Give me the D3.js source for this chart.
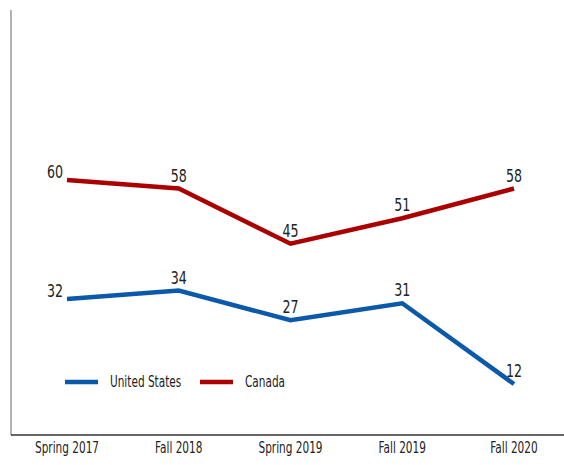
<!DOCTYPE html>
<html>
<head>
<meta charset="utf-8">
<script src="https://d3js.org/d3.v7.min.js"></script>
<style>
  body { margin: 0; background: #fff; }
  text { font-family: "DejaVu Sans Condensed", "DejaVu Sans", sans-serif; fill: #222; }
</style>
</head>
<body>
<svg id="chart" width="564" height="465"></svg>
<script>
var categories = ["Spring 2017", "Fall 2018", "Spring 2019", "Fall 2019", "Fall 2020"];
var usValues = [32, 34, 27, 31, 12];
var canadaValues = [60, 58, 45, 51, 58];

var series = [
  {name: "United States", values: usValues, color: "#0a59ab"},
  {name: "Canada", values: canadaValues, color: "#aa0000"}
];

// the reference uses a condensed face, so squeeze text horizontally
var squeeze = 0.78;
function place(px, py) { return "translate(" + px + "," + py + ") scale(" + squeeze + ",1)"; }

var svg = d3.select("#chart");

var x = d3.scalePoint().domain(categories).range([67, 514]);
var y = d3.scaleLinear().domain([0, 100]).range([435, 10]);

// axes
svg.append("line")
    .attr("x1", 11).attr("x2", 11)
    .attr("y1", y(100)).attr("y2", y(0))
    .attr("stroke", "#999").attr("stroke-width", 1.5);

svg.append("line")
    .attr("x1", 11).attr("x2", 564)
    .attr("y1", y(0)).attr("y2", y(0))
    .attr("stroke", "#333").attr("stroke-width", 1.5);

svg.selectAll("text.tick")
    .data(categories)
  .enter().append("text")
    .attr("class", "tick")
    .attr("transform", function(d) { return place(x(d), 453); })
    .attr("text-anchor", "middle")
    .style("font-size", "15px")
    .text(function(d) { return d; });

var line = d3.line()
    .x(function(d, i) { return x(categories[i]); })
    .y(function(d) { return y(d); });

series.forEach(function(s) {
  svg.append("path")
      .attr("d", line(s.values))
      .attr("fill", "none")
      .attr("stroke", s.color)
      .attr("stroke-width", 4.5);

  svg.selectAll(null)
      .data(s.values)
    .enter().append("text")
      .attr("transform", function(d, i) {
        return i == 0 ? place(x(categories[i]) - 4, y(d) - 2) : place(x(categories[i]), y(d) - 7);
      })
      .attr("text-anchor", function(d, i) { return i == 0 ? "end" : "middle"; })
      .style("font-size", "18px")
      .text(function(d) { return d; });
});

// legend
var legend = svg.append("g").attr("transform", "translate(65,382)");
var lx = [0, 135];
series.forEach(function(s, i) {
  legend.append("line")
      .attr("x1", lx[i]).attr("x2", lx[i] + 33)
      .attr("y1", 0).attr("y2", 0)
      .attr("stroke", s.color).attr("stroke-width", 4.5);
  legend.append("text")
      .attr("transform", place(lx[i] + 45, 5))
      .style("font-size", "15px")
      .text(s.name);
});
</script>
</body>
</html>
